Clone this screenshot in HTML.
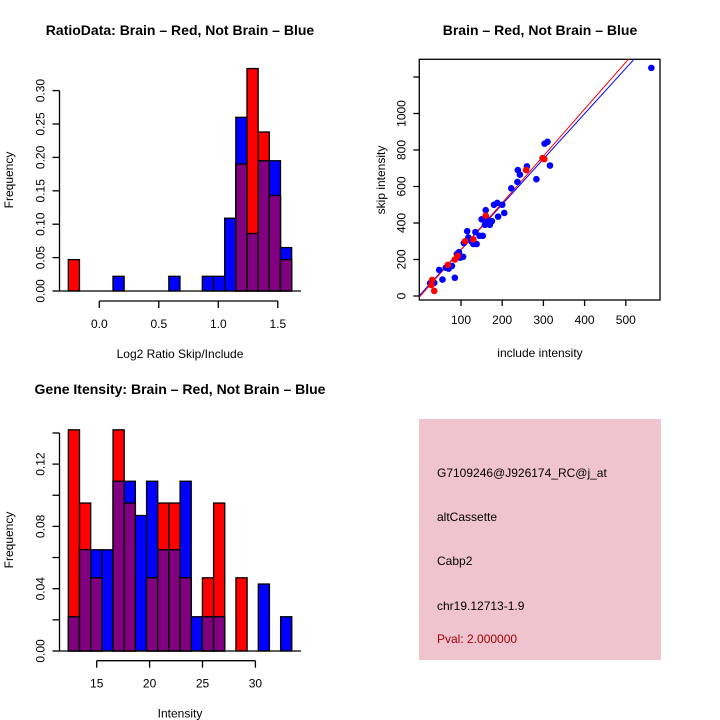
<!DOCTYPE html>
<html><head><meta charset="utf-8"><style>
html,body{margin:0;padding:0;background:#fff;}
svg{display:block;font-family:"Liberation Sans",sans-serif;}
</style></head><body>
<svg id="chart" width="720" height="720" viewBox="0 0 720 720" xmlns="http://www.w3.org/2000/svg">
<text x="180" y="35" font-size="14" font-weight="bold" text-anchor="middle">RatioData: Brain – Red, Not Brain – Blue</text>
<text x="540" y="35" font-size="14" font-weight="bold" text-anchor="middle">Brain – Red, Not Brain – Blue</text>
<text x="180" y="394" font-size="14" font-weight="bold" text-anchor="middle">Gene Itensity: Brain – Red, Not Brain – Blue</text>
<g id="g1"></g>
<g id="g2"></g>
<g id="g3"></g>
<g>
<rect x="419" y="419" width="242" height="241" fill="#f0c4cf"/>
<text x="437" y="477" font-size="12">G7109246@J926174_RC@j_at</text>
<text x="437" y="521" font-size="12">altCassette</text>
<text x="437" y="565" font-size="12">Cabp2</text>
<text x="437" y="610" font-size="12">chr19.12713-1.9</text>
<text x="437" y="643" font-size="12" fill="#a00000">Pval: 2.000000</text>
</g>
</svg>
<script>
// ---- Ratio histogram data ----
const ratioBinStart = -0.2605;
const ratioBinWidth = 0.09385;
const ratioRed  = [0.047,0,0,0,0,0,0,0,0,0,0,0,0,0,0,0.19,0.333,0.238,0.143,0.047];
const ratioBlue = [0,0,0,0,0.022,0,0,0,0,0.022,0,0,0.022,0.022,0.109,0.26,0.086,0.195,0.195,0.065];
const ratioYTicks = [0,0.05,0.10,0.15,0.20,0.25,0.30];
const ratioYLabels = ["0.00","0.05","0.10","0.15","0.20","0.25","0.30"];
const ratioXTicks = [0,0.5,1.0,1.5];
const ratioXLabels = ["0.0","0.5","1.0","1.5"];
// ---- Intensity histogram data ----
const intBinStart = 12.32;
const intBinWidth = 1.056;
const intRed  = [0.142,0.095,0.047,0,0.142,0.095,0,0.047,0.095,0.095,0.047,0,0.047,0.095,0,0.047,0,0,0,0];
const intBlue = [0.022,0.065,0.065,0.065,0.109,0.109,0.087,0.109,0.065,0.065,0.109,0.022,0.022,0.022,0,0,0,0.043,0,0.022];
const intYTicks = [0,0.02,0.04,0.06,0.08,0.10,0.12,0.14];
const intYLabels = ["0.00","","0.04","","0.08","","0.12",""];
const intXTicks = [15,20,25,30];
const intXLabels = ["15","20","25","30"];
// ---- Scatter data ----
const blueX = [25,35,47,55,63,70,78,85,90,95,98,105,107,115,118,125,130,135,138,145,150,153,158,160,163,168,170,175,180,188,190,200,205,222,237,238,243,260,283,303,310,316,562];
const blueY = [70,72,143,90,155,150,165,100,230,240,210,215,290,355,320,300,285,350,285,330,420,330,390,470,420,400,390,410,500,510,435,500,455,590,625,690,665,710,640,835,845,715,1250];
const redX = [28,30,35,68,85,92,110,130,160,258,298,302];
const redY = [60,88,28,170,200,220,300,310,440,690,755,750];
const blueFit = [5, 2.485];
const redFit = [-4, 2.57];
const scXTicks = [100,200,300,400,500];
const scYTicks = [0,200,400,600,800,1000];

const NS="http://www.w3.org/2000/svg";
function mk(parent,tag,attrs){const e=document.createElementNS(NS,tag);for(const k in attrs)e.setAttribute(k,attrs[k]);parent.appendChild(e);return e;}

function hist(g,cfg){
  const sx=v=>cfg.x0px+(v-cfg.x0)*cfg.xs, sy=v=>cfg.y0px-v*cfg.ys;
  for(let i=0;i<cfg.red.length;i++){
    const l=sx(cfg.binStart+i*cfg.binW), r=sx(cfg.binStart+(i+1)*cfg.binW);
    const layers=[[cfg.red[i],"#ff0000","bar-red-"+i],[cfg.blue[i],"#0000ff","bar-blue-"+i],[Math.min(cfg.red[i],cfg.blue[i]),"#800080","bar-overlap-"+i]];
    for(const [v,c,n] of layers){ if(v<=0) continue;
      const e=mk(g,"rect",{x:l,y:sy(v),width:r-l,height:sy(0)-sy(v),fill:c,stroke:"#000","stroke-width":1.3});
      
      
    }
  }
  const bl=mk(g,"line",{x1:cfg.yAxisX,x2:cfg.baseEnd,y1:sy(0),y2:sy(0),stroke:"#000","stroke-width":1.3});
  
  
  const ya=mk(g,"line",{x1:cfg.yAxisX,x2:cfg.yAxisX,y1:sy(cfg.yT[0]),y2:sy(cfg.yT[cfg.yT.length-1]),stroke:"#000","stroke-width":1.3});
  
  
  cfg.yT.forEach((t,i)=>{
    mk(g,"line",{x1:cfg.yAxisX-7,x2:cfg.yAxisX,y1:sy(t),y2:sy(t),stroke:"#000","stroke-width":1.3});
    if(cfg.yL[i]){const tx=mk(g,"text",{x:0,y:0,"font-size":12,"text-anchor":"middle",transform:`translate(${cfg.yAxisX-15},${sy(t)}) rotate(-90)`});tx.textContent=cfg.yL[i];
      
      }
  });
  const xa=mk(g,"line",{x1:sx(cfg.xT[0]),x2:sx(cfg.xT[cfg.xT.length-1]),y1:cfg.xAxisY,y2:cfg.xAxisY,stroke:"#000","stroke-width":1.3});
  
  
  cfg.xT.forEach((t,i)=>{
    mk(g,"line",{x1:sx(t),x2:sx(t),y1:cfg.xAxisY,y2:cfg.xAxisY+7,stroke:"#000","stroke-width":1.3});
    const tx=mk(g,"text",{x:sx(t),y:cfg.xAxisY+27,"font-size":12,"text-anchor":"middle"});tx.textContent=cfg.xL[i];
    
    
  });
  const xt=mk(g,"text",{x:cfg.xTitleX,y:cfg.xAxisY+57,"font-size":12,"text-anchor":"middle"});xt.textContent=cfg.xTitle;
  
  
  const yt=mk(g,"text",{x:0,y:0,"font-size":12,"text-anchor":"middle",transform:`translate(13,${cfg.yTitleY}) rotate(-90)`});yt.textContent="Frequency";
  
  
}

hist(document.getElementById("g1"),{x0:0,x0px:99.3,xs:119,y0px:291,ys:668,binStart:ratioBinStart,binW:ratioBinWidth,red:ratioRed,blue:ratioBlue,yT:ratioYTicks,yL:ratioYLabels,xT:ratioXTicks,xL:ratioXLabels,yAxisX:59.5,baseEnd:301,xAxisY:301,xTitle:"Log2 Ratio Skip/Include",xTitleX:180,yTitleY:180});
hist(document.getElementById("g3"),{x0:15,x0px:96.7,xs:10.58,y0px:651,ys:1557.5,binStart:intBinStart,binW:intBinWidth,red:intRed,blue:intBlue,yT:intYTicks,yL:intYLabels,xT:intXTicks,xL:intXLabels,yAxisX:59.5,baseEnd:301,xAxisY:660.7,xTitle:"Intensity",xTitleX:180,yTitleY:540});

// scatter
(function(){
  const g=document.getElementById("g2");
  const L=419.3,R=660,T=59.3,B=300;
  const sx=v=>461+(v-100)*0.412, sy=v=>296-v*0.1825;
  const box=mk(g,"rect",{x:L,y:T,width:R-L,height:B-T,fill:"none",stroke:"#000","stroke-width":1.3});
  
  
  const clip=mk(g,"clipPath",{id:"scclip"});mk(clip,"rect",{x:L,y:T,width:R-L,height:B-T});
  [[blueFit,"#0000ff","fit-line-blue"],[redFit,"#ff0000","fit-line-red"]].forEach(([f,c,n])=>{
    const x1=-10,x2=600;
    const ln=mk(g,"line",{x1:sx(x1),y1:sy(f[0]+f[1]*x1),x2:sx(x2),y2:sy(f[0]+f[1]*x2),stroke:c,"stroke-width":1,"clip-path":"url(#scclip)"});
    
    
  });
  blueX.forEach((x,i)=>{const c=mk(g,"circle",{cx:sx(x),cy:sy(blueY[i]),r:3.3,fill:"#0000ff"});
    
    });
  redX.forEach((x,i)=>{const c=mk(g,"circle",{cx:sx(x),cy:sy(redY[i]),r:3.3,fill:"#ff0000"});
    
    });
  scXTicks.forEach(t=>{
    mk(g,"line",{x1:sx(t),x2:sx(t),y1:B,y2:B+6,stroke:"#000","stroke-width":1.3});
    const tx=mk(g,"text",{x:sx(t),y:B+24,"font-size":12,"text-anchor":"middle"});tx.textContent=t;
    
    
  });
  scYTicks.forEach(t=>{
    mk(g,"line",{x1:L-6,x2:L,y1:sy(t),y2:sy(t),stroke:"#000","stroke-width":1.3});
    const tx=mk(g,"text",{x:0,y:0,"font-size":12,"text-anchor":"middle",transform:`translate(${L-14},${sy(t)}) rotate(-90)`});tx.textContent=t;
    
    
  });
  mk(g,"line",{x1:L-6,x2:L,y1:sy(1200),y2:sy(1200),stroke:"#000","stroke-width":1.3});
  const xt=mk(g,"text",{x:540,y:357,"font-size":12,"text-anchor":"middle"});xt.textContent="include intensity";
  
  
  const yt=mk(g,"text",{x:0,y:0,"font-size":12,"text-anchor":"middle",transform:"translate(385,180) rotate(-90)"});yt.textContent="skip intensity";
  
  
})();
</script>
</body></html>
